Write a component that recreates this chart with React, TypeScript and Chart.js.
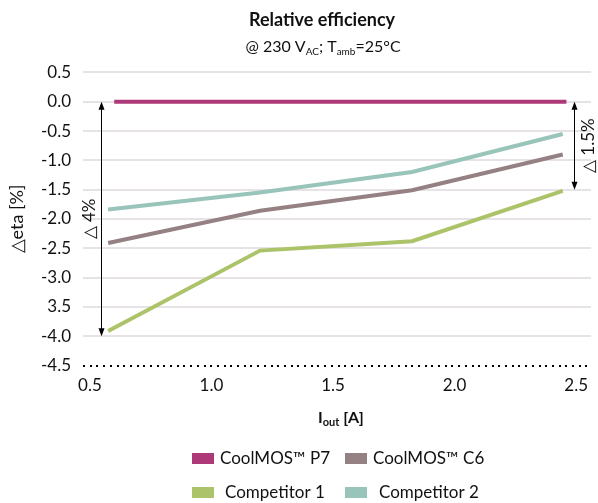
import React, { useEffect, useRef } from 'react';
import { Chart, registerables } from 'chart.js';

Chart.register(...registerables);

// ---- data ----
const xValues = [0.575, 1.2, 1.825, 2.445];
const p7X = [0.6, 1.2, 1.825, 2.46];
const p7Values = [0, 0, 0, 0];
const c6Values = [-2.41, -1.86, -1.51, -0.9];
const comp1Values = [-3.91, -2.54, -2.38, -1.52];
const comp2Values = [-1.84, -1.55, -1.2, -0.55];

const seriesNames = ['CoolMOS™ P7', 'CoolMOS™ C6', 'Competitor 1', 'Competitor 2'];
const seriesColors = ['#ad3978', '#958084', '#adc36a', '#99c4b9'];

const xTicks = [0.5, 1.0, 1.5, 2.0, 2.5];
const yTickLabels: Record<string, string> = { '-3.5': '3.5' };

const arrowX = [0.547, 2.49];
const arrowFrom = [0, 0];
const arrowTo = [-4, -1.5];
const arrowLabels = ['△ 4%', '△ 1.5%'];

const FONT = 'Lato';
const TXT = '#111';

type Part = { t: string; font: string; dy: number };

function drawRich(ctx: CanvasRenderingContext2D, parts: Part[], cx: number, baseline: number) {
  let w = 0;
  for (const p of parts) {
    ctx.font = p.font;
    w += ctx.measureText(p.t).width;
  }
  let x = cx - w / 2;
  ctx.textAlign = 'left';
  ctx.textBaseline = 'alphabetic';
  for (const p of parts) {
    ctx.font = p.font;
    ctx.fillText(p.t, x, baseline + p.dy);
    x += ctx.measureText(p.t).width;
  }
}

const overlayPlugin = {
  id: 'overlay',
  afterDraw(chart: any) {
    const { ctx, scales, chartArea } = chart;
    const xs = scales.x;
    const ys = scales.y;
    ctx.save();

    // dotted baseline at -4.5
    const by = Math.round(ys.getPixelForValue(-4.5));
    ctx.fillStyle = '#000';
    for (let px = chartArea.left; px < chartArea.right; px += 6.7) {
      ctx.fillRect(Math.round(px), by - 1, 2, 2);
    }

    // arrows
    ctx.strokeStyle = '#000';
    arrowX.forEach((ax, i) => {
      const px = Math.round(xs.getPixelForValue(ax)) + 0.5;
      const y1 = ys.getPixelForValue(arrowFrom[i]);
      const y2 = ys.getPixelForValue(arrowTo[i]);
      const ah = 8;
      const aw = 3;
      ctx.lineWidth = 1;
      ctx.beginPath();
      ctx.moveTo(px, y1 + ah - 1);
      ctx.lineTo(px, y2 - ah + 1);
      ctx.stroke();
      ctx.beginPath();
      ctx.moveTo(px, y1);
      ctx.lineTo(px - aw, y1 + ah);
      ctx.lineTo(px + aw, y1 + ah);
      ctx.closePath();
      ctx.fill();
      ctx.beginPath();
      ctx.moveTo(px, y2);
      ctx.lineTo(px - aw, y2 - ah);
      ctx.lineTo(px + aw, y2 - ah);
      ctx.closePath();
      ctx.fill();
      ctx.save();
      const dx = i === 0 ? -12 : 14;
      ctx.translate(px + dx, (y1 + y2) / 2);
      ctx.rotate(-Math.PI / 2);
      ctx.font = `17px ${FONT}`;
      ctx.fillStyle = TXT;
      ctx.textAlign = 'center';
      ctx.textBaseline = 'middle';
      ctx.fillText(arrowLabels[i], 0, 0);
      ctx.restore();
    });

    // title + subtitle
    ctx.fillStyle = TXT;
    drawRich(ctx, [{ t: 'Relative efficiency', font: `bold 18px ${FONT}`, dy: 0 }], 322, 25.5);
    const sub = `16px ${FONT}`;
    const small = `10px ${FONT}`;
    drawRich(
      ctx,
      [
        { t: '@ 230 V', font: sub, dy: 0 },
        { t: 'AC', font: small, dy: 2.5 },
        { t: '; T', font: sub, dy: 0 },
        { t: 'amb', font: small, dy: 2.5 },
        { t: '=25°C', font: sub, dy: 0 },
      ],
      323,
      52
    );

    // x axis title
    const xc = (chartArea.left + chartArea.right) / 2 + 4;
    drawRich(
      ctx,
      [
        { t: 'I', font: `bold 16px ${FONT}`, dy: 0 },
        { t: 'out', font: `bold 11px ${FONT}`, dy: 3 },
        { t: ' [A]', font: `bold 16px ${FONT}`, dy: 0 },
      ],
      xc,
      423
    );

    // legend (2 x 2)
    const colBox = [192, 345];
    const rowBase = [464, 498];
    const textX = [[220, 373], [225, 379]];
    ctx.font = `17px ${FONT}`;
    ctx.textAlign = 'left';
    ctx.textBaseline = 'alphabetic';
    for (let i = 0; i < 4; i++) {
      const r = Math.floor(i / 2);
      const c = i % 2;
      ctx.fillStyle = seriesColors[i];
      ctx.fillRect(colBox[c], rowBase[r] - 11, 22, 11);
      ctx.fillStyle = TXT;
      ctx.fillText(seriesNames[i], textX[r][c], rowBase[r]);
    }
    ctx.restore();
  },
};

export default function App() {
  const ref = useRef<HTMLCanvasElement | null>(null);
  useEffect(() => {
    document.body.style.margin = '0';
    const canvas = ref.current;
    if (!canvas) return;
    const mk = (xs: number[], ys: number[]) => xs.map((x, i) => ({ x, y: ys[i] }));
    const chart = new Chart(canvas, {
      type: 'line',
      data: {
        datasets: [
          { label: seriesNames[3], data: mk(xValues, comp2Values), borderColor: seriesColors[3], backgroundColor: seriesColors[3] },
          { label: seriesNames[2], data: mk(xValues, comp1Values), borderColor: seriesColors[2], backgroundColor: seriesColors[2] },
          { label: seriesNames[1], data: mk(xValues, c6Values), borderColor: seriesColors[1], backgroundColor: seriesColors[1] },
          { label: seriesNames[0], data: mk(p7X, p7Values), borderColor: seriesColors[0], backgroundColor: seriesColors[0] },
        ].map((d) => ({ ...d, borderWidth: 4, pointRadius: 0, tension: 0, borderCapStyle: 'butt' as const, fill: false })),
      },
      options: {
        responsive: false,
        animation: false,
        layout: { padding: { top: 72.4, left: 0, right: 0, bottom: 0 } },
        plugins: { legend: { display: false }, tooltip: { enabled: false }, title: { display: false } },
        scales: {
          x: {
            type: 'linear',
            min: 0.4716,
            max: 2.5609,
            afterBuildTicks: (scale: any) => {
              scale.ticks = xTicks.map((v) => ({ value: v }));
            },
            afterFit: (scale: any) => {
              scale.height = 137.5;
            },
            grid: { display: false, drawTicks: false },
            border: { display: false },
            ticks: {
              color: TXT,
              font: { family: FONT, size: 17 },
              padding: 10,
              maxRotation: 0,
              autoSkip: false,
              callback: (v: any) => Number(v).toFixed(1),
            },
          },
          y: {
            type: 'linear',
            min: -4.5,
            max: 0.5,
            afterFit: (scale: any) => {
              scale.width = 83;
            },
            grid: {
              drawTicks: false,
              lineWidth: 2,
              color: (c: any) => (c.tick && Math.abs(c.tick.value + 4.5) < 1e-6 ? 'rgba(0,0,0,0)' : '#e6e2e6'),
            },
            border: { display: false },
            ticks: {
              stepSize: 0.5,
              color: TXT,
              font: { family: FONT, size: 17 },
              padding: 12,
              callback: (v: any) => {
                const s = Number(v).toFixed(1);
                const k = String(Number(v));
                return yTickLabels[k] ?? (s === '-0.0' ? '0.0' : s);
              },
            },
            title: {
              display: true,
              text: '△eta [%]',
              color: TXT,
              font: { family: FONT, size: 18 },
              padding: { top: 6, bottom: 4 },
            },
          },
        },
      },
      plugins: [overlayPlugin],
    });
    return () => chart.destroy();
  }, []);
  return (
    <div style={{ width: 598, height: 503 }}>
      <canvas ref={ref} width={598} height={503} />
    </div>
  );
}
